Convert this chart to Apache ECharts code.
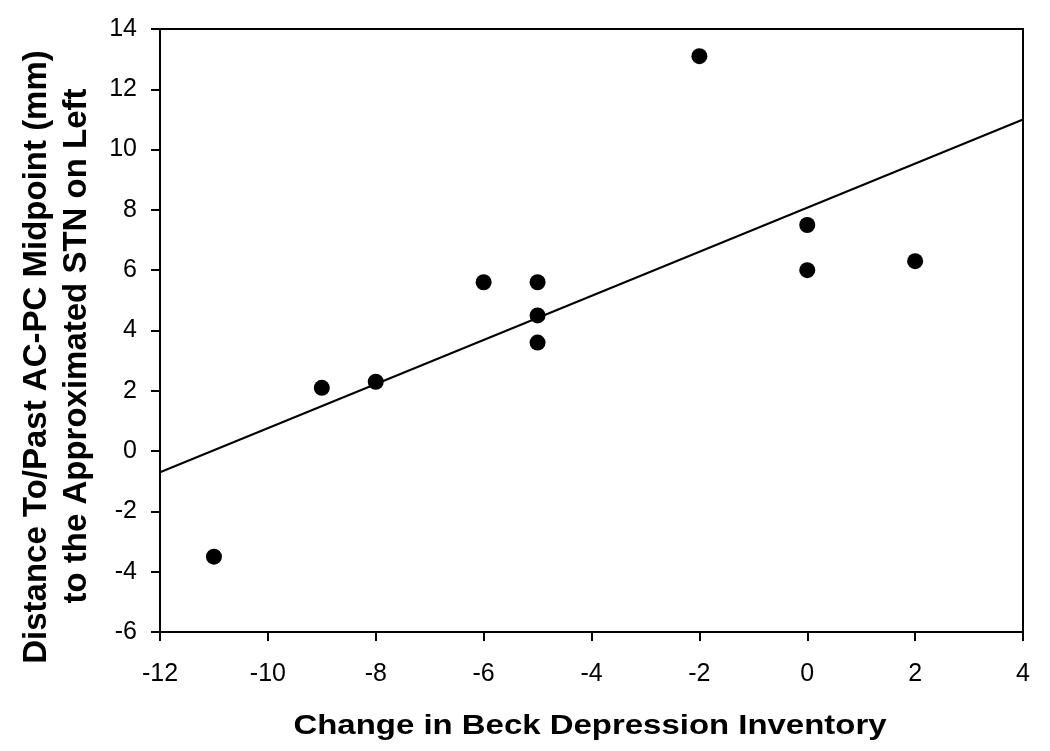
<!DOCTYPE html>
<html><head><meta charset="utf-8">
<script src="https://cdn.jsdelivr.net/npm/echarts@6/dist/echarts.min.js"></script>
<style>html,body{margin:0;padding:0;background:#fff}#c{width:1050px;height:751px}</style>
</head><body><div id="c"></div>
<script>
const xValues = [-11, -9, -8, -6, -5, -5, -5, -2, 0, 0, 2];
const yValues = [-3.5, 2.1, 2.3, 5.6, 5.6, 4.5, 3.6, 13.1, 7.5, 6.0, 6.3];
const fitX = [-12, 4];
const fitY = [-0.7, 11.0];
const xTitle = 'Change in Beck Depression Inventory';
const yTitle1 = 'Distance To/Past AC-PC Midpoint (mm)';
const yTitle2 = 'to the Approximated STN on Left';

const chart = echarts.init(document.getElementById('c'));
const font = '"Liberation Sans", Arial, sans-serif';
chart.setOption({
  animation: false,
  backgroundColor: '#fff',
  grid: {left: 160, top: 29, right: 27, bottom: 119, show: true, borderColor: '#000', borderWidth: 2, backgroundColor: 'transparent'},
  xAxis: {
    type: 'value', min: -12, max: 4, interval: 2,
    axisLine: {show: true, onZero: false, lineStyle: {color: '#000', width: 2}},
    axisTick: {show: true, inside: false, length: 9, lineStyle: {color: '#000', width: 2}},
    axisLabel: {color: '#000', fontSize: 25, fontFamily: font, margin: 30},
    splitLine: {show: false}
  },
  yAxis: {
    type: 'value', min: -6, max: 14, interval: 2,
    axisLine: {show: true, onZero: false, lineStyle: {color: '#000', width: 2}},
    axisTick: {show: true, inside: false, length: 9, lineStyle: {color: '#000', width: 2}},
    axisLabel: {color: '#000', fontSize: 25, fontFamily: font, margin: 23},
    splitLine: {show: false}
  },
  series: [
    {type: 'line', data: fitX.map((x, i) => [x, fitY[i]]), showSymbol: false, symbol: 'none',
     lineStyle: {color: '#000', width: 2}, z: 2},
    {type: 'scatter', data: xValues.map((x, i) => [x, yValues[i]]), symbol: 'circle', symbolSize: 16,
     itemStyle: {color: '#000', opacity: 1}, z: 3}
  ],
  graphic: [
    {type: 'text', x: 590, y: 727, scaleX: 1.22, style: {text: xTitle, font: 'bold 27px ' + font, fill: '#000', align: 'center', verticalAlign: 'middle'}},
    {type: 'text', x: 37, y: 357, rotation: Math.PI / 2, style: {text: yTitle1, font: 'bold 33px ' + font, fill: '#000', align: 'center', verticalAlign: 'middle'}},
    {type: 'text', x: 77, y: 346, rotation: Math.PI / 2, style: {text: yTitle2, font: 'bold 33px ' + font, fill: '#000', align: 'center', verticalAlign: 'middle'}}
  ]
});
</script></body></html>
